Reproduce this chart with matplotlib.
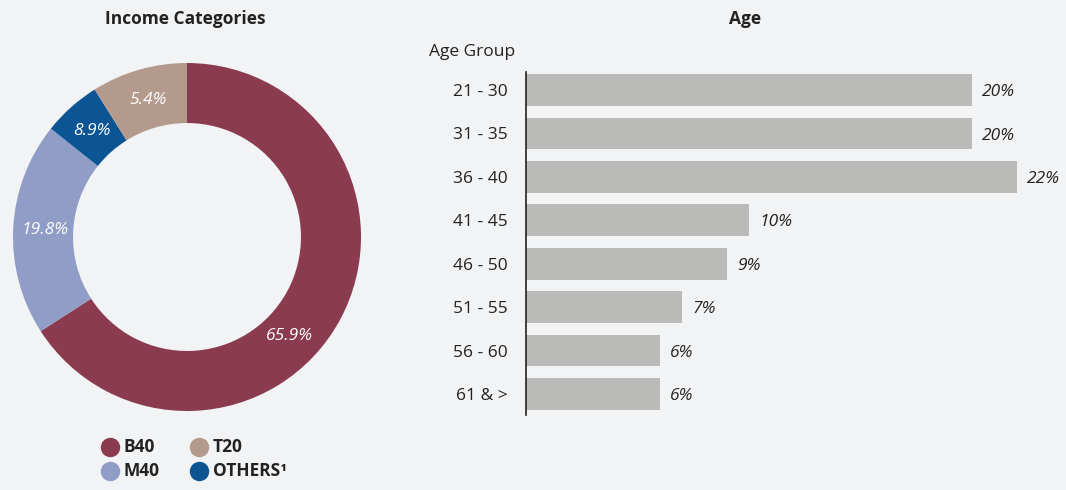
import numpy as np
import matplotlib.pyplot as plt
from matplotlib.lines import Line2D

plt.rcParams['font.family'] = ['Open Sans', 'DejaVu Sans']

# income donut (clockwise from 12 o'clock)
income_cats = ['B40', 'M40', 'OTHERS\u00b9', 'T20']
income_sizes = [65.9, 19.8, 5.4, 8.9]
income_text = ['65.9%', '19.8%', '8.9%', '5.4%']
income_colors = ['#8b3b4f', '#8f9dc7', '#0c5594', '#b39a8c']
legend_order = [0, 1, 3, 2]

# age bars
age_groups = ['21 - 30', '31 - 35', '36 - 40', '41 - 45', '46 - 50', '51 - 55', '56 - 60', '61 & >']
age_pct = [20, 20, 22, 10, 9, 7, 6, 6]

bg = '#f2f3f5'
txt = '#222222'
W, H = 1066, 490
fs = 12.5

fig = plt.figure(figsize=(W / 100, H / 100), dpi=100, facecolor=bg)

# ---- donut ----
cx, cy, r = 187, 237, 174
ax1 = fig.add_axes([(cx - r) / W, (H - cy - r) / H, 2 * r / W, 2 * r / H])
ax1.set_facecolor(bg)
ring = 0.345
wedges, _ = ax1.pie(income_sizes, colors=income_colors, startangle=90, counterclock=False,
                    radius=1, wedgeprops=dict(width=ring, linewidth=0))
label_shift = [-15.5, 0, 0, 0]
for w, t, s in zip(wedges, income_text, label_shift):
    ang = np.deg2rad((w.theta1 + w.theta2) / 2 + s)
    rr = 1 - ring / 2 - 0.01
    ax1.text(rr * np.cos(ang), rr * np.sin(ang), t, ha='center', va='center',
             color='white', fontsize=fs, fontstyle='italic')
ax1.set_xlim(-1, 1)
ax1.set_ylim(-1, 1)
ax1.set_aspect('equal')
ax1.axis('off')

fig.text(185 / W, 1 - 19 / H, 'Income Categories', ha='center', va='center',
         fontsize=fs, fontweight='bold', color=txt)

handles = [Line2D([], [], marker='o', linestyle='none', markersize=14,
                  markerfacecolor=income_colors[i], markeredgewidth=0) for i in legend_order]
labels = [income_cats[i] for i in legend_order]
leg = fig.legend(handles, labels, ncol=2, loc='upper left',
                 bbox_to_anchor=(103 / W, 1 - 438 / H), frameon=False,
                 handletextpad=0.45, columnspacing=2.4, labelspacing=0.45,
                 handlelength=1.0, borderaxespad=0, borderpad=0)
for t in leg.get_texts():
    t.set_fontweight('bold')
    t.set_fontsize(fs)
    t.set_color(txt)

# ---- age bars ----
x0, ytop, ybot = 526, 72, 415
step = 43.43
c0 = 90
ax2 = fig.add_axes([x0 / W, (H - ybot) / H, (W - x0) / W, (ybot - ytop) / H])
ax2.set_facecolor(bg)
y = np.arange(len(age_groups))
ax2.barh(y, age_pct, height=0.73, color='#babbb8')
ax2.set_xlim(0, (W - x0) / 22.3)
ax2.set_ylim(7 + (ybot - (c0 + 7 * step)) / step, -(c0 - ytop) / step)
ax2.set_yticks(y)
ax2.set_yticklabels(age_groups, fontsize=fs, color=txt)
ax2.tick_params(axis='y', length=0, pad=13)
ax2.set_xticks([])
for s in ['top', 'right', 'bottom']:
    ax2.spines[s].set_visible(False)
ax2.spines['left'].set_color('#222222')
ax2.spines['left'].set_linewidth(1.2)
for yi, v in zip(y, age_pct):
    ax2.text(v + 0.45, yi + 0.05, f'{v}%', va='center', ha='left', fontsize=fs,
             fontstyle='italic', color=txt)

fig.text(515 / W, 1 - 52 / H, 'Age Group', ha='right', va='center', fontsize=fs, color=txt)
fig.text(745 / W, 1 - 19 / H, 'Age', ha='center', va='center', fontsize=fs,
         fontweight='bold', color=txt)

fig.savefig('out.png', dpi=100, facecolor=bg)
